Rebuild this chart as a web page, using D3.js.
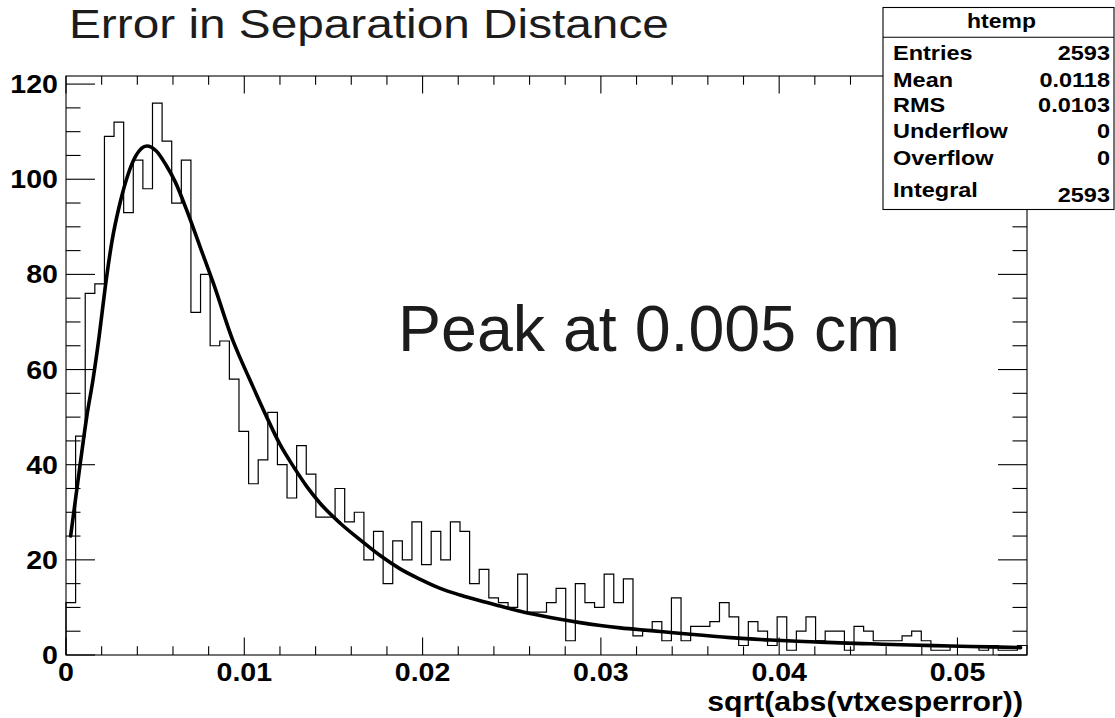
<!DOCTYPE html>
<html>
<head>
<meta charset="utf-8">
<script src="https://cdn.jsdelivr.net/npm/d3@7"></script>
<style>
  html, body { margin: 0; padding: 0; background: #ffffff; }
  svg { display: block; }
</style>
</head>
<body>
<script>
// ---------- data ----------
const xRange = [0, 0.0539];           // histogram axis range
const binCounts = [
  11, 46, 76, 78, 109, 112, 93, 104, 98, 116,
  108, 95, 104, 72, 80, 65, 66, 58, 47, 36,
  41, 51, 40, 33, 44, 38, 29, 29, 35, 28,
  30, 20, 26, 15, 24, 20, 28, 19, 26, 20,
  28, 26, 15, 18, 12, 11, 10, 17, 9, 9,
  11, 14, 3, 15, 11, 10, 17, 11, 16, 4,
  5, 7, 3, 12, 3, 6, 6, 7, 11, 8,
  2, 7, 5, 2, 8, 1, 5, 8, 3, 5,
  5, 1, 6, 5, 3, 3, 3, 4, 5, 3,
  1, 1, 2, 2, 2, 1, 2, 1, 1, 2
];
const fitX = [0.00026, 0.00079, 0.00116, 0.00152, 0.00186, 0.00219, 0.00258, 0.00303,
  0.00348, 0.00393, 0.00453, 0.00505, 0.00561, 0.00612, 0.00677, 0.00752, 0.00827,
  0.00939, 0.00976, 0.01051, 0.01126, 0.01201, 0.01276, 0.01351, 0.01425, 0.01538,
  0.0165, 0.01762, 0.01874, 0.01987, 0.02099, 0.02211, 0.02323, 0.02435, 0.02548,
  0.0266, 0.02772, 0.02884, 0.02997, 0.03109, 0.03221, 0.03333, 0.03502, 0.03726,
  0.03951, 0.04175, 0.04343, 0.04512, 0.04736, 0.0496, 0.05185, 0.05354];
const fitY = [25, 40, 50, 58, 67, 77, 87, 95,
  101, 105, 107, 106, 103, 99.5, 93.5, 85.8, 78.1,
  65.8, 62.5, 56.2, 50, 44.2, 39.6, 35.4, 31.9, 27.7,
  24.2, 20.9, 18.1, 15.9, 14.0, 12.6, 11.4, 10.3, 9.2,
  8.3, 7.5, 6.8, 6.2, 5.7, 5.3, 4.95, 4.35, 3.65,
  3.15, 2.8, 2.55, 2.35, 2.1, 1.9, 1.7, 1.55];
const yTickLabels = [0, 20, 40, 60, 80, 100, 120];
const xTickLabels = [0, 0.01, 0.02, 0.03, 0.04, 0.05];
const xTickText = ["0", "0.01", "0.02", "0.03", "0.04", "0.05"];
const statLabels = ["Entries", "Mean", "RMS", "Underflow", "Overflow", "Integral"];
const statValues = ["2593", "0.0118", "0.0103", "0", "0", "2593"];
const titleText = "Error in Separation Distance";
const annotationText = "Peak at 0.005 cm";
const xAxisTitle = "sqrt(abs(vtxesperror))";
const statTitle = "htemp";

// ---------- layout ----------
const W = 1115, H = 718;
const frame = { left: 66, right: 1027, top: 76, bottom: 655 };
const SX = 1.12; // horizontal stretch of the original rendering
const FONT = "'Liberation Sans', Arial, Helvetica, sans-serif";

const svg = d3.select("body").append("svg")
  .attr("width", W).attr("height", H)
  .style("background", "#fff");

const x = d3.scaleLinear().domain(xRange).range([frame.left, frame.right]);
const y = d3.scaleLinear().domain([0, 121.7]).range([frame.bottom, frame.top]);

function stretchedText(g, str, px, py, opts) {
  return g.append("text")
    .attr("transform", `translate(${px},${py}) scale(${opts.sx || SX},1)`)
    .attr("font-family", FONT)
    .attr("font-size", opts.size)
    .attr("font-weight", opts.weight || "normal")
    .attr("fill", opts.fill || "#000")
    .attr("text-anchor", opts.anchor || "start")
    .text(str);
}

// ---------- histogram ----------
const nb = binCounts.length;
const bw = (xRange[1] - xRange[0]) / nb;
const pts = [{ x: xRange[0], v: 0 }];
binCounts.forEach((c, i) => pts.push({ x: xRange[0] + i * bw, v: c }));
pts.push({ x: xRange[1], v: binCounts[nb - 1] });
pts.push({ x: xRange[1], v: 0 });

const stepLine = d3.line()
  .x(d => x(d.x)).y(d => y(d.v))
  .curve(d3.curveStepAfter);

svg.append("path")
  .attr("d", stepLine(pts))
  .attr("fill", "none")
  .attr("stroke", "#000")
  .attr("stroke-width", 1.2);

// ---------- fit curve ----------
const fitLine = d3.line()
  .x((d, i) => x(fitX[i])).y((d, i) => y(fitY[i]))
  .curve(d3.curveMonotoneX);
svg.append("path")
  .attr("d", fitLine(fitX))
  .attr("fill", "none")
  .attr("stroke", "#000")
  .attr("stroke-width", 3.6)
  .attr("stroke-linejoin", "round")
  .attr("stroke-linecap", "round");

// ---------- frame & ticks ----------
const axes = svg.append("g").attr("stroke", "#000").attr("stroke-width", 1.1);
axes.append("rect")
  .attr("x", frame.left).attr("y", frame.top)
  .attr("width", frame.right - frame.left).attr("height", frame.bottom - frame.top)
  .attr("fill", "none");

const yMajLen = 29, yMinLen = 14.5, xMajLen = 17.5, xMinLen = 8.7;
const yMinor = d3.range(0, 121, 5);
yMinor.forEach(v => {
  const len = (v % 20 === 0) ? yMajLen : yMinLen;
  axes.append("line").attr("x1", frame.left).attr("x2", frame.left + len)
    .attr("y1", y(v)).attr("y2", y(v));
  axes.append("line").attr("x1", frame.right).attr("x2", frame.right - len)
    .attr("y1", y(v)).attr("y2", y(v));
});
const xMinor = d3.range(0, 27).map(k => k * 0.002);
xMinor.forEach((v, k) => {
  if (v > xRange[1]) return;
  const len = (k % 5 === 0) ? xMajLen : xMinLen;
  axes.append("line").attr("x1", x(v)).attr("x2", x(v))
    .attr("y1", frame.bottom).attr("y2", frame.bottom - len);
  axes.append("line").attr("x1", x(v)).attr("x2", x(v))
    .attr("y1", frame.top).attr("y2", frame.top + len);
});

// ---------- tick labels ----------
const labels = svg.append("g");
yTickLabels.forEach(v => {
  stretchedText(labels, String(v), frame.left - 8, y(v) + 9, { size: 25.5, weight: "bold", anchor: "end" });
});
xTickLabels.forEach((v, i) => {
  stretchedText(labels, xTickText[i], x(v), 681, { size: 25.5, weight: "bold", anchor: "middle" });
});
stretchedText(labels, xAxisTitle, 1023, 711, { size: 27, weight: "bold", anchor: "end" });

// ---------- title & annotation ----------
stretchedText(svg, titleText, 69, 37.8, { size: 41, fill: "#1c1c1c", sx: 1.165 });
stretchedText(svg, annotationText, 398, 350.7, { size: 64.5, fill: "#1c1c1c", sx: 1.0 });

// ---------- stats box ----------
const box = { x: 883, y: 7.5, w: 231, h: 202 };
const sb = svg.append("g");
sb.append("rect").attr("x", box.x).attr("y", box.y).attr("width", box.w).attr("height", box.h)
  .attr("fill", "#fff").attr("stroke", "#000").attr("stroke-width", 1.1);
sb.append("line").attr("x1", box.x).attr("x2", box.x + box.w)
  .attr("y1", 37.3).attr("y2", 37.3).attr("stroke", "#000").attr("stroke-width", 1.1);
stretchedText(sb, statTitle, 1001.5, 28, { size: 20.5, weight: "bold", anchor: "middle" });
const rowBase = [60, 87, 112, 138.3, 165.3, 196.5];
statLabels.forEach((s, i) => {
  stretchedText(sb, s, 893, rowBase[i], { size: 21, weight: "bold" });
  const vy = (i === statLabels.length - 1) ? rowBase[i] + 5.5 : rowBase[i];
  stretchedText(sb, statValues[i], 1110, vy, { size: 21, weight: "bold", anchor: "end" });
});
</script>
</body>
</html>
